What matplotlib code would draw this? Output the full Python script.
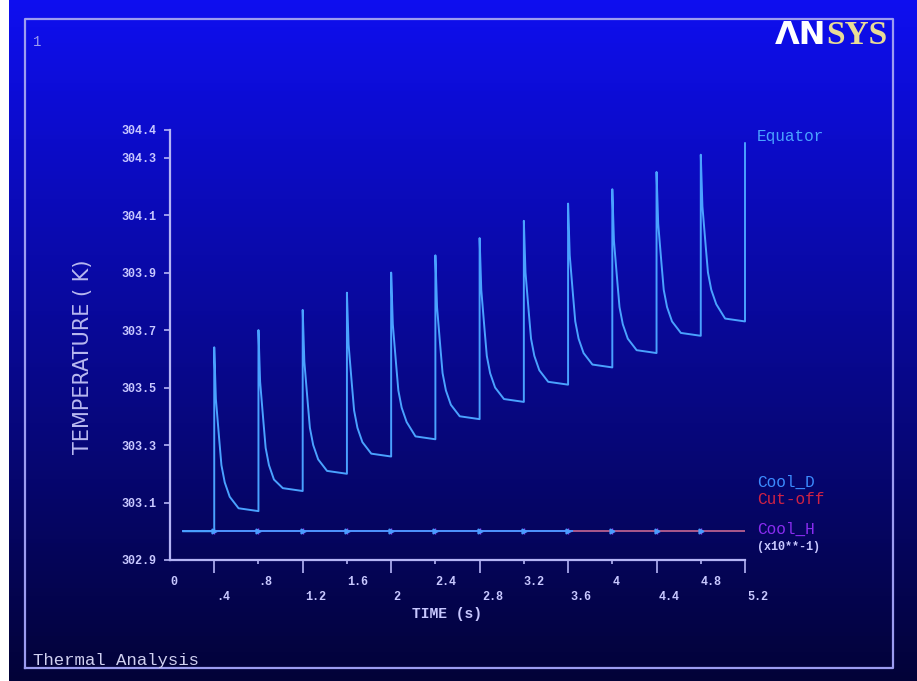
#Transient thermal result, ANSYS style plot of node temperatures vs time
import numpy as np
import matplotlib.pyplot as plt
from matplotlib.patches import Rectangle

#Equator node temperature (K), time in units of 10^-1 s
eq_time = [0.12, 0.4,
           0.4, 0.415, 0.445, 0.465, 0.495, 0.54, 0.62, 0.8,
           0.8, 0.815, 0.845, 0.865, 0.895, 0.94, 1.02, 1.2,
           1.2, 1.215, 1.245, 1.265, 1.295, 1.34, 1.42, 1.6,
           1.6, 1.615, 1.645, 1.665, 1.695, 1.74, 1.82, 2.0,
           2.0, 2.015, 2.045, 2.065, 2.095, 2.14, 2.22, 2.4,
           2.4, 2.415, 2.445, 2.465, 2.495, 2.54, 2.62, 2.8,
           2.8, 2.815, 2.845, 2.865, 2.895, 2.94, 3.02, 3.2,
           3.2, 3.215, 3.245, 3.265, 3.295, 3.34, 3.42, 3.6,
           3.6, 3.615, 3.645, 3.665, 3.695, 3.74, 3.82, 4.0,
           4.0, 4.015, 4.045, 4.065, 4.095, 4.14, 4.22, 4.4,
           4.4, 4.415, 4.445, 4.465, 4.495, 4.54, 4.62, 4.8,
           4.8, 4.815, 4.845, 4.865, 4.895, 4.94, 5.02, 5.2,
           5.2]
eq_temp = [303.0, 303.0,
           303.64, 303.46, 303.32, 303.23, 303.17, 303.12, 303.08, 303.07,
           303.70, 303.52, 303.38, 303.29, 303.23, 303.18, 303.15, 303.14,
           303.77, 303.59, 303.45, 303.36, 303.30, 303.25, 303.21, 303.20,
           303.83, 303.65, 303.51, 303.42, 303.36, 303.31, 303.27, 303.26,
           303.90, 303.72, 303.58, 303.49, 303.43, 303.38, 303.33, 303.32,
           303.96, 303.78, 303.64, 303.55, 303.49, 303.44, 303.40, 303.39,
           304.02, 303.84, 303.70, 303.61, 303.55, 303.50, 303.46, 303.45,
           304.08, 303.90, 303.76, 303.67, 303.61, 303.56, 303.52, 303.51,
           304.14, 303.96, 303.82, 303.73, 303.67, 303.62, 303.58, 303.57,
           304.19, 304.01, 303.87, 303.78, 303.72, 303.67, 303.63, 303.62,
           304.25, 304.07, 303.93, 303.84, 303.78, 303.73, 303.69, 303.68,
           304.31, 304.13, 303.99, 303.90, 303.84, 303.79, 303.74, 303.73,
           304.35]

#Cooling nodes sit on the same constant temperature
cool_time = [0.12, 0.4, 0.8, 1.2, 1.6, 2.0, 2.4, 2.8, 3.2, 3.6, 4.0, 4.4, 4.8, 5.2]
cool_d_temp = [303.0] * len(cool_time)
cool_h_temp = [303.0] * len(cool_time)
cut_time = [3.65, 5.2]
cut_temp = [303.0, 303.0]

#Axis ticks as ANSYS prints them
y_ticks = [302.9, 303.1, 303.3, 303.5, 303.7, 303.9, 304.1, 304.3, 304.396]
y_labels = ['302.9', '303.1', '303.3', '303.5', '303.7', '303.9', '304.1', '304.3', '304.4']
x_top_ticks = [0, 0.8, 1.6, 2.4, 3.2, 4.0, 4.8]
x_top_labels = ['0', '.8', '1.6', '2.4', '3.2', '4', '4.8']
x_bot_ticks = [0.4, 1.2, 2.0, 2.8, 3.6, 4.4, 5.2]
x_bot_labels = ['.4', '1.2', '2', '2.8', '3.6', '4.4', '5.2']

W, H = 917, 681
def fx(px):
  return px / W
def fy(py):
  return 1 - py / H

mono = 'Liberation Mono'
lav = '#c8c8ff'

fig = plt.figure(figsize=(9.17, 6.81), dpi=100)

#Background: blue to navy gradient as horizontal bands, white strip on the left, outer frame
bg = fig.add_axes([0, 0, 1, 1], zorder=0)
bg.set_xlim(0, 1)
bg.set_ylim(0, 1)
top = np.array([14, 14, 240]) / 255
bot = np.array([2, 2, 55]) / 255
n = 170
for i in range(n):
  c = tuple(top + (bot - top) * (i + 0.5) / n)
  bg.add_patch(Rectangle((0, 1 - (i + 1) / n), 1, 1 / n + 0.002, color=c, lw=0))
bg.add_patch(Rectangle((0, 0), fx(9), 1, color='white', lw=0))
bg.plot([fx(25), fx(893), fx(893), fx(25), fx(25)],
        [fy(668), fy(668), fy(19), fy(19), fy(668)], color='#9c9cf0', lw=1.6)
bg.axis('off')

ax = fig.add_axes([fx(170), fy(560), fx(745) - fx(170), fy(130) - fy(560)], zorder=1)
ax.patch.set_alpha(0)

ax.plot(cool_time, cool_h_temp, color='#8a3cf0', lw=1.2, marker='+', ms=4, mew=1,
        markevery=list(range(1, len(cool_time) - 1)), zorder=2)
ax.plot(cool_time, cool_d_temp, color='#4a9cff', lw=1.3, zorder=3)
ax.plot(cut_time, cut_temp, color='#b0507e', lw=1.3, zorder=4)
ax.plot(cool_time[1:-1], cool_d_temp[1:-1], ls='none', marker='>', ms=3.5,
        color='#4a9cff', zorder=5)
ax.plot(eq_time, eq_temp, color='#4aa2ff', lw=1.4, zorder=6, clip_on=False)

ax.set_xlim(0, 5.2)
ax.set_ylim(302.9, 304.396)
for s in ['top', 'right']:
  ax.spines[s].set_visible(False)
for s in ['left', 'bottom']:
  ax.spines[s].set_color('#b4b4f5')
  ax.spines[s].set_linewidth(1.6)

ax.set_xticks(x_bot_ticks)
ax.set_xticks(x_top_ticks[1:], minor=True)
ax.set_xticklabels([])
ax.tick_params(axis='x', which='major', length=9, width=1.2, color='#b4b4f5')
ax.tick_params(axis='x', which='minor', length=3, width=1.2, color='#b4b4f5')
for v, s in zip(x_top_ticks, x_top_labels):
  ax.text(v, -0.051, s, transform=ax.get_xaxis_transform(), ha='left', va='center',
          fontsize=8.5, family=mono, color=lav, fontweight='bold')
for v, s in zip(x_bot_ticks, x_bot_labels):
  ax.text(v + 0.02, -0.086, s, transform=ax.get_xaxis_transform(), ha='left', va='center',
          fontsize=8.5, family=mono, color=lav, fontweight='bold')

ax.set_yticks(y_ticks)
ax.set_yticklabels(y_labels, family=mono, fontsize=8.5, color=lav, fontweight='bold')
ax.tick_params(axis='y', length=4, width=1.2, color='#b4b4f5', pad=6)

#Legend labels, ANSYS puts them at the right end of the curves
fig.text(fx(757), fy(137), 'Equator', family=mono, fontsize=11.5, color='#4aa2ff', va='center')
fig.text(fx(757), fy(482), 'Cool_D', family=mono, fontsize=11.5, color='#3c8cff', va='center')
fig.text(fx(757), fy(500), 'Cut-off', family=mono, fontsize=11.5, color='#d02244', va='center')
fig.text(fx(757), fy(529), 'Cool_H', family=mono, fontsize=11.5, color='#8a2cf0', va='center')
fig.text(fx(757), fy(547), '(x10**-1)', family=mono, fontsize=8.5, color=lav, va='center',
         fontweight='bold')

fig.text(fx(83), fy(357), 'TEMPERATURE ( K)', rotation=90, ha='center', va='center',
         fontsize=15, color='#b8b8f0')
fig.text(fx(447), fy(614), 'TIME (s)', ha='center', va='center', family=mono,
         fontsize=10.5, color=lav, fontweight='bold')

fig.text(fx(33), fy(42), '1', family=mono, fontsize=10, color='#9c9cf0', va='center')
fig.text(fx(33), fy(660), 'Thermal Analysis', family=mono, fontsize=12.5, color='#d0d0f0',
         va='center')

#ANSYS logo
fig.text(fx(826), fy(35), '\u039bN', ha='right', va='center', fontsize=23,
         fontweight='bold', color='white', family='DejaVu Sans')
fig.text(fx(826), fy(35), 'SYS', ha='left', va='center', fontsize=24,
         fontweight='bold', color='#e8dc96', family='Liberation Serif')

plt.savefig('out.png', dpi=100)
